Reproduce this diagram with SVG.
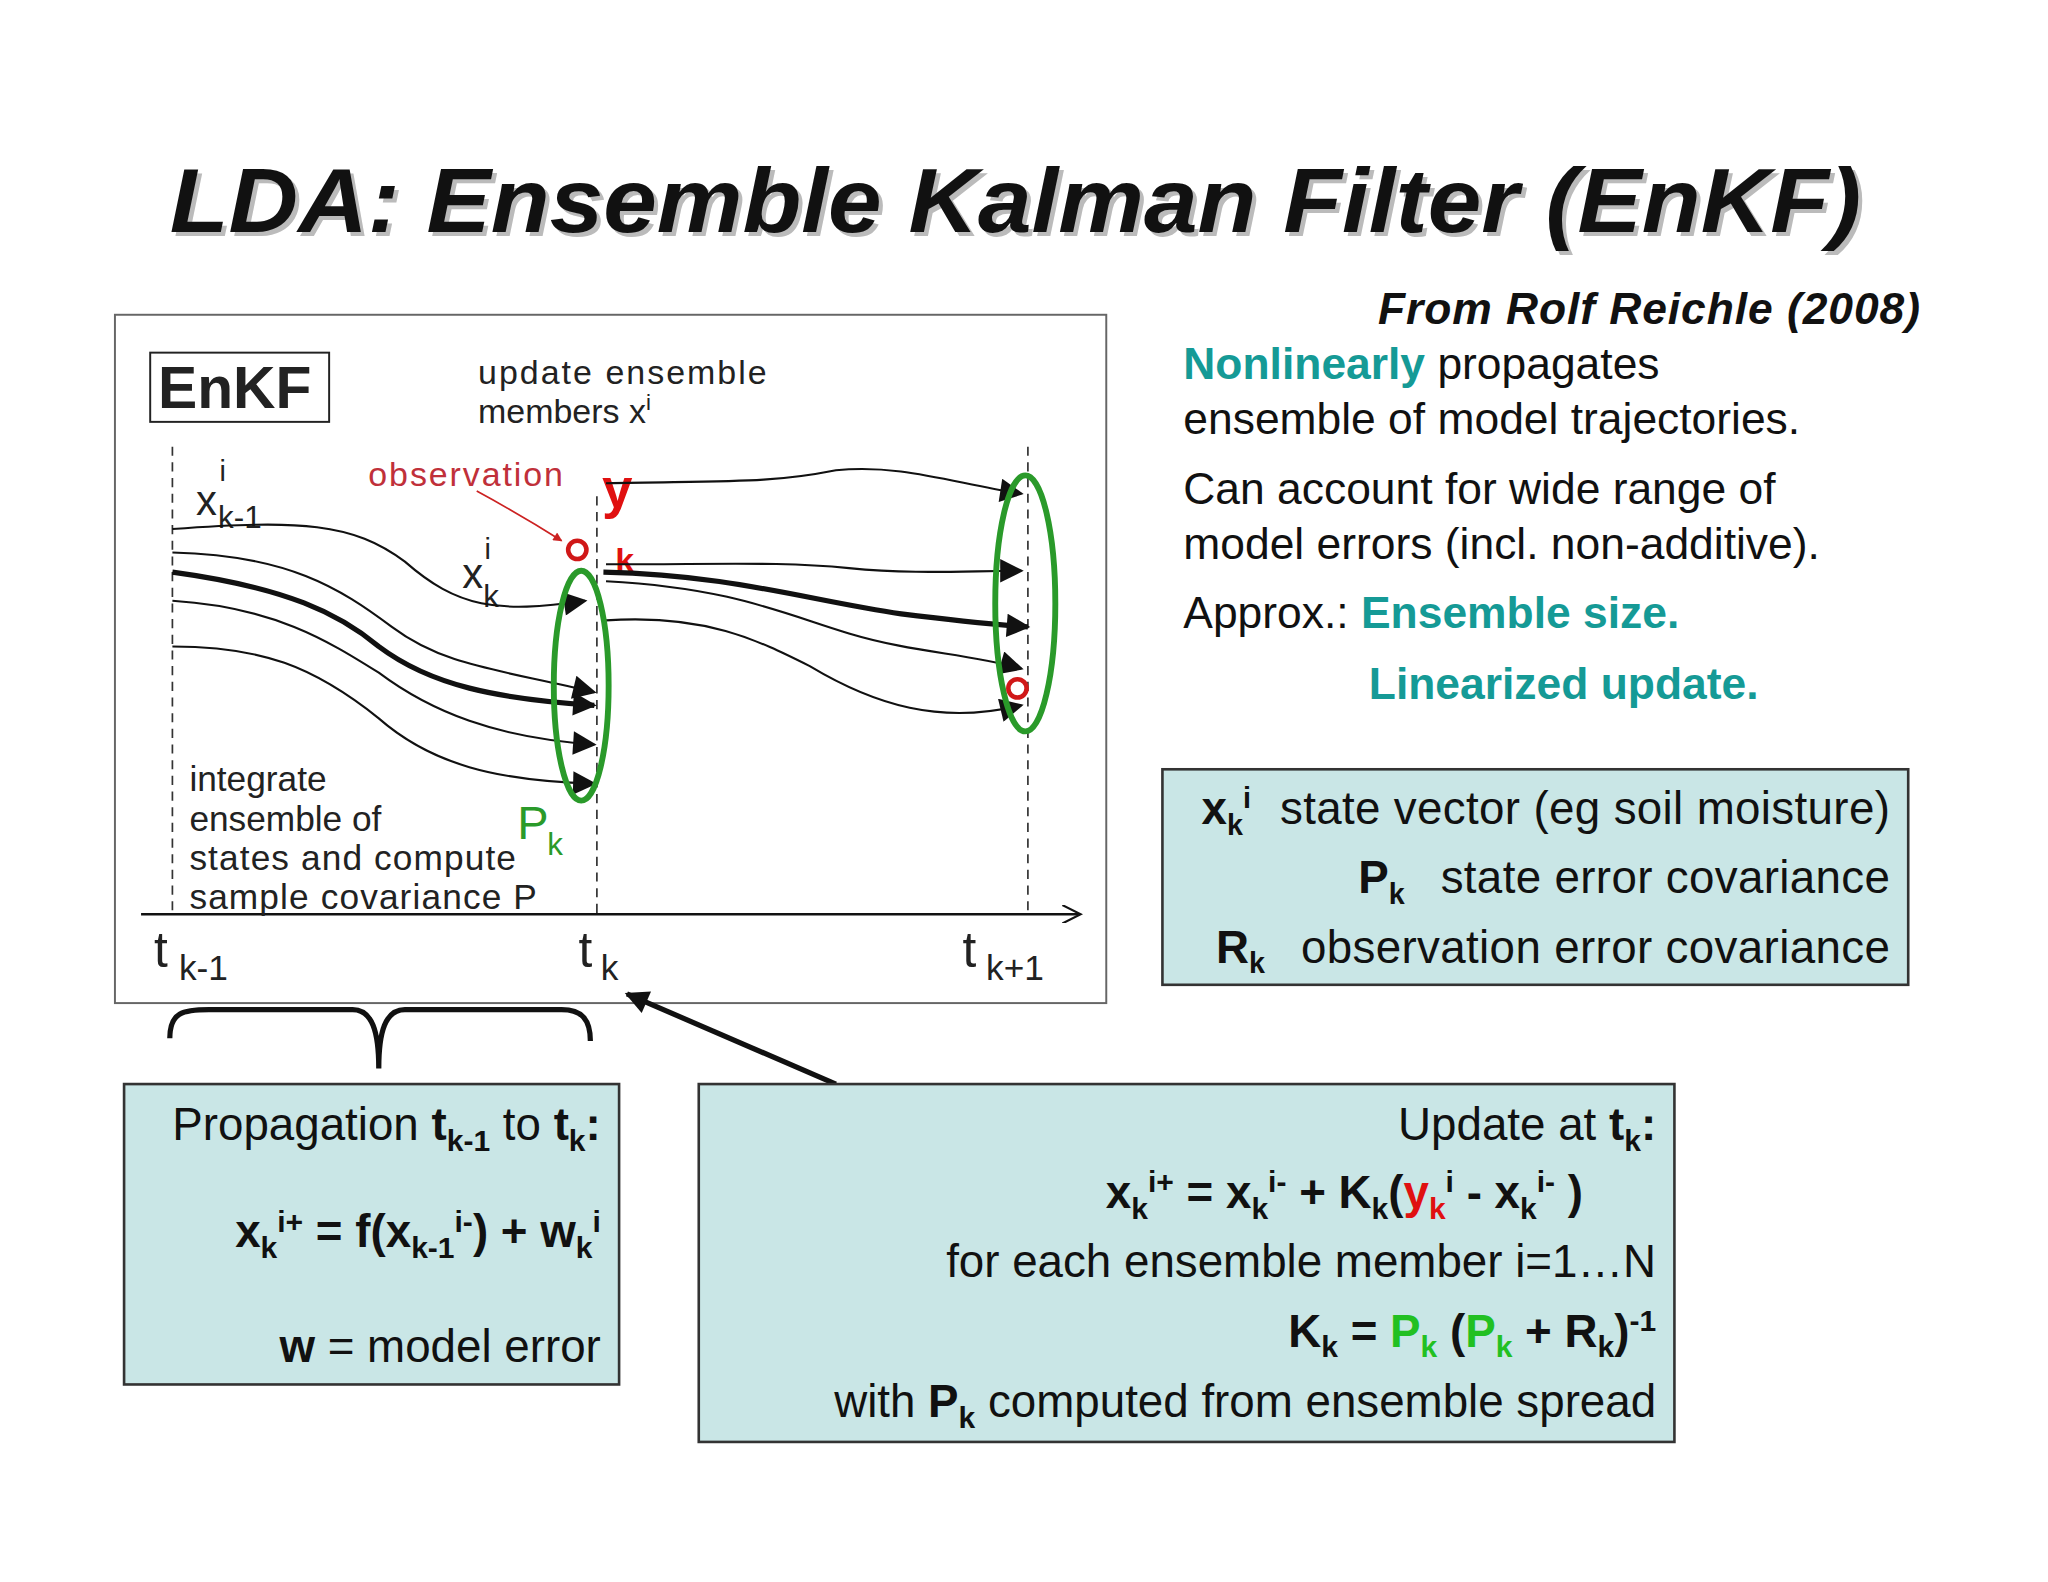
<svg xmlns="http://www.w3.org/2000/svg" width="2048" height="1582" viewBox="0 0 2048 1582">
<defs>
<style>
.s{font-family:"Liberation Sans",Arial,sans-serif}
.d{font-family:"Liberation Sans",Arial,sans-serif;fill:#222}
.box{fill:#c9e6e6;stroke:#333;stroke-width:2}
.c{fill:none;stroke:#111;stroke-width:1.6}
.ct{fill:none;stroke:#111;stroke-width:4}
.dash{stroke:#333;stroke-width:1.3;stroke-dasharray:7,5}
.teal{fill:#159a96;font-weight:bold}
.b{font-weight:bold}
</style>
<marker id="ab" viewBox="0 0 10 10" refX="9" refY="5" markerWidth="30" markerHeight="18" markerUnits="userSpaceOnUse" orient="auto"><path d="M0,0L10,5L0,10z" fill="#111"/></marker>
<marker id="ar" viewBox="0 0 10 10" refX="9" refY="5" markerWidth="9" markerHeight="7" markerUnits="userSpaceOnUse" orient="auto"><path d="M0,0L10,5L0,10z" fill="#c22"/></marker>
<marker id="ax" viewBox="0 0 10 10" refX="9" refY="5" markerWidth="18" markerHeight="14" markerUnits="userSpaceOnUse" orient="auto"><path d="M0,0L10,5L0,10" fill="none" stroke="#111" stroke-width="1.2"/></marker>
</defs>
<rect width="2048" height="1582" fill="#fff"/>
<g transform="scale(1.3061)">
<g id="title">
<text x="133" y="181" textLength="1295" lengthAdjust="spacingAndGlyphs" class="s" font-size="70" font-weight="bold" font-style="italic" fill="#bbb">LDA: Ensemble Kalman Filter (EnKF)</text>
<text x="130" y="178" textLength="1295" lengthAdjust="spacingAndGlyphs" class="s" font-size="70" font-weight="bold" font-style="italic" fill="#111">LDA: Ensemble Kalman Filter (EnKF)</text>
</g>
<g id="figure">
<rect x="88" y="241" width="759" height="527" fill="#fff" stroke="#666" stroke-width="1.5"/>
<rect x="115" y="270" width="137" height="53" fill="none" stroke="#222" stroke-width="1.5"/>
<text x="121" y="312" class="d" font-size="45" font-weight="bold" fill="#111">EnKF</text>
<text x="366" y="294" class="d" font-size="26" textLength="221">update ensemble</text>
<text x="366" y="324" class="d" font-size="26">members x<tspan font-size="17" dy="-10">i</tspan></text>
<line x1="132" y1="342" x2="132" y2="700" class="dash"/>
<line x1="457" y1="380" x2="457" y2="700" class="dash"/>
<line x1="787" y1="342" x2="787" y2="700" class="dash"/>
<line x1="108" y1="700" x2="826" y2="700" stroke="#111" stroke-width="2" marker-end="url(#ax)"/>
<text x="150" y="394" class="d" font-size="32">x</text>
<text x="168" y="368" class="d" font-size="22">i</text>
<text x="167" y="404" class="d" font-size="24">k-1</text>
<text x="354" y="450" class="d" font-size="32">x</text>
<text x="371" y="428" class="d" font-size="22">i</text>
<text x="370" y="465" class="d" font-size="24">k</text>
<text x="282" y="372" font-family="Liberation Sans,Arial,sans-serif" font-size="26" fill="#c0303a" textLength="149">observation</text>
<path d="M365,376 Q400,395 430,414" fill="none" stroke="#c22" stroke-width="1.3" marker-end="url(#ar)"/>
<text x="461" y="388" class="s" font-size="42" font-weight="bold" fill="#e01010">y</text>
<text x="471" y="438" class="s" font-size="26" font-weight="bold" fill="#e01010">k</text>
<g id="curves">
<path d="M132,405 C230,398 270,400 310,430 C350,465 380,470 448,460" class="c" marker-end="url(#ab)"/>
<path d="M132,423 C220,425 260,450 300,480 C340,510 380,512 455,530" class="c" marker-end="url(#ab)"/>
<path d="M132,438 C220,450 260,470 290,495 C330,525 380,535 455,540" class="ct" marker-end="url(#ab)"/>
<path d="M132,460 C210,465 250,490 290,515 C330,545 380,565 455,570" class="c" marker-end="url(#ab)"/>
<path d="M132,495 C200,495 240,510 290,550 C330,585 380,598 455,600" class="c" marker-end="url(#ab)"/>
<path d="M464,370 C560,368 590,370 640,360 C690,355 730,370 782,378" class="c" marker-end="url(#ab)"/>
<path d="M464,432 C560,432 600,430 650,435 C700,440 740,437 782,437" class="c" marker-end="url(#ab)"/>
<path d="M462,438 C560,440 620,460 690,470 C730,475 760,478 787,480" class="ct" marker-end="url(#ab)"/>
<path d="M464,445 C560,450 600,470 650,485 C700,500 740,500 782,512" class="c" marker-end="url(#ab)"/>
<path d="M464,475 C540,470 580,490 620,510 C670,540 720,555 782,540" class="c" marker-end="url(#ab)"/>
</g>
<ellipse cx="445" cy="525" rx="21" ry="88" fill="none" stroke="#2a9a2a" stroke-width="4.5"/>
<ellipse cx="785" cy="462" rx="23" ry="98" fill="none" stroke="#2a9a2a" stroke-width="4.5"/>
<circle cx="442" cy="421" r="7" fill="none" stroke="#d01818" stroke-width="3.5"/>
<circle cx="779" cy="527" r="7" fill="none" stroke="#d01818" stroke-width="3.5"/>
<text x="396" y="642" class="s" font-size="36" fill="#2a9a2a">P</text>
<text x="419" y="655" class="s" font-size="24" fill="#2a9a2a">k</text>
<text x="145" y="606" class="d" font-size="27">integrate</text>
<text x="145" y="636" class="d" font-size="27">ensemble of</text>
<text x="145" y="666" class="d" font-size="27" textLength="250">states and compute</text>
<text x="145" y="696" class="d" font-size="27" textLength="266">sample covariance P</text>
<text x="118" y="740" class="d" font-size="38">t</text><text x="137" y="750" class="d" font-size="27">k-1</text>
<text x="443" y="740" class="d" font-size="38">t</text><text x="460" y="750" class="d" font-size="27">k</text>
<text x="737" y="740" class="d" font-size="38">t</text><text x="755" y="750" class="d" font-size="27">k+1</text>
</g>
<g id="notes" class="s" font-size="34" fill="#111">
<text x="1470" y="248" text-anchor="end" font-weight="bold" font-style="italic" textLength="415">From Rolf Reichle (2008)</text>
<text x="906" y="290"><tspan class="teal">Nonlinearly</tspan> propagates</text>
<text x="906" y="332">ensemble of model trajectories.</text>
<text x="906" y="386">Can account for wide range of</text>
<text x="906" y="428">model errors (incl. non-additive).</text>
<text x="906" y="481">Approx.: <tspan class="teal">Ensemble size.</tspan></text>
<text x="1048" y="535" class="teal">Linearized update.</text>
</g>
<g id="legend" class="s" fill="#111" font-size="35">
<rect x="890" y="589" width="571" height="165" class="box"/>
<text x="920" y="631" class="b">x<tspan font-size="22" dy="8">k</tspan><tspan font-size="22" dy="-20">i</tspan></text>
<text x="980" y="631" textLength="467">state vector (eg soil moisture)</text>
<text x="1040" y="684" class="b">P<tspan font-size="22" dy="8">k</tspan></text>
<text x="1103" y="684" textLength="344">state error covariance</text>
<text x="931" y="737" class="b">R<tspan font-size="22" dy="8">k</tspan></text>
<text x="996" y="737" textLength="451">observation error covariance</text>
</g>
<g id="connectors">
<path d="M130,795 C130,775 140,773 160,773 L270,773 C285,773 290,790 290,818 C290,790 295,773 310,773 L430,773 C445,773 452,780 452,797" fill="none" stroke="#111" stroke-width="4"/>
<line x1="640" y1="830" x2="480" y2="761" stroke="#111" stroke-width="4" marker-end="url(#ab)"/>
</g>
<g id="propagation" class="s" fill="#111" font-size="35">
<rect x="95" y="830" width="379" height="230" class="box"/>
<text x="460" y="873" text-anchor="end">Propagation <tspan class="b">t<tspan font-size="23" dy="8">k-1</tspan></tspan><tspan dy="-8"> to </tspan><tspan class="b">t<tspan font-size="23" dy="8">k</tspan><tspan dy="-8">:</tspan></tspan></text>
<text x="460" y="955" text-anchor="end" class="b">x<tspan font-size="23" dy="8">k</tspan><tspan font-size="23" dy="-20">i+</tspan><tspan dy="12"> = f(x</tspan><tspan font-size="23" dy="8">k-1</tspan><tspan font-size="23" dy="-20">i-</tspan><tspan dy="12">) + w</tspan><tspan font-size="23" dy="8">k</tspan><tspan font-size="23" dy="-20">i</tspan></text>
<text x="460" y="1043" text-anchor="end"><tspan class="b">w</tspan> = model error</text>
</g>
<g id="update" class="s" fill="#111" font-size="35">
<rect x="535" y="830" width="747" height="274" class="box"/>
<text x="1268" y="873" text-anchor="end">Update at <tspan class="b">t<tspan font-size="23" dy="8">k</tspan><tspan dy="-8">:</tspan></tspan></text>
<text x="1212" y="925" text-anchor="end" class="b">x<tspan font-size="23" dy="8">k</tspan><tspan font-size="23" dy="-20">i+</tspan><tspan dy="12"> = x</tspan><tspan font-size="23" dy="8">k</tspan><tspan font-size="23" dy="-20">i-</tspan><tspan dy="12"> + K</tspan><tspan font-size="23" dy="8">k</tspan><tspan dy="-8">(</tspan><tspan fill="#e01010">y</tspan><tspan font-size="23" dy="8" fill="#e01010">k</tspan><tspan font-size="23" dy="-20">i</tspan><tspan dy="12"> - x</tspan><tspan font-size="23" dy="8">k</tspan><tspan font-size="23" dy="-20">i-</tspan><tspan dy="12"> )</tspan></text>
<text x="1268" y="978" text-anchor="end">for each ensemble member i=1…N</text>
<text x="1268" y="1031" text-anchor="end" class="b">K<tspan font-size="23" dy="8">k</tspan><tspan dy="-8"> = </tspan><tspan fill="#22c022">P</tspan><tspan font-size="23" dy="8" fill="#22c022">k</tspan><tspan dy="-8"> (</tspan><tspan fill="#22c022">P</tspan><tspan font-size="23" dy="8" fill="#22c022">k</tspan><tspan dy="-8"> + R</tspan><tspan font-size="23" dy="8">k</tspan><tspan dy="-8">)</tspan><tspan font-size="23" dy="-12">-1</tspan></text>
<text x="1268" y="1085" text-anchor="end">with <tspan class="b">P<tspan font-size="23" dy="8">k</tspan></tspan><tspan dy="-8"> computed from ensemble spread</tspan></text>
</g>
</g>
</svg>
